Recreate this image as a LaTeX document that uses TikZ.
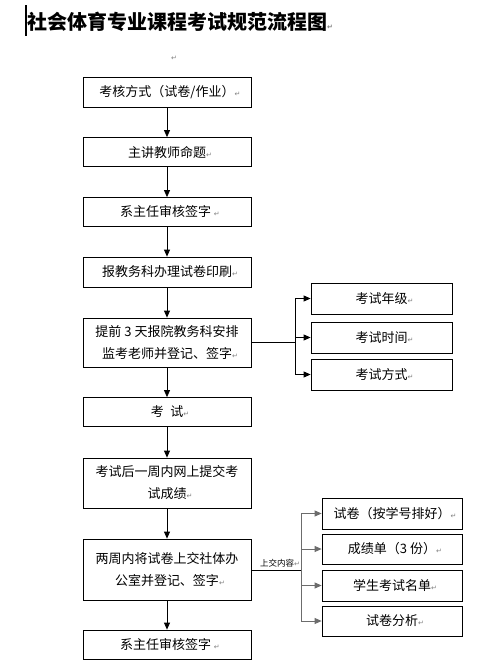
\documentclass[tikz,border=0pt]{standalone}
\usepackage{fontspec}
\newfontfamily\cjk{Noto Sans CJK SC}
\newfontfamily\dvf{DejaVu Sans}
\usetikzlibrary{arrows.meta}
\newcommand\retmark{\rlap{\dvf\fontsize{7}{7}\selectfont\textcolor{gray}{↵}}}
\tikzset{
  mbox/.style={draw, line width=0.8pt, minimum width=168pt, inner sep=0pt, align=center,
    font=\cjk\fontsize{13}{22}\selectfont},
  rbox/.style={draw, line width=0.8pt, minimum width=141pt, minimum height=31pt, inner sep=0pt,
    font=\cjk\fontsize{13}{22}\selectfont},
  arr/.style={-{Triangle[length=7pt,width=6pt]}, line width=0.8pt},
  garr/.style={-{Triangle[length=7pt,width=6pt]}, line width=0.8pt, draw=gray!85!black},
  gline/.style={line width=0.8pt, draw=gray!85!black}
}
\begin{document}
\begin{tikzpicture}[x=1pt,y=-1pt]
\useasboundingbox (0,0) rectangle (481,667);
\fill[white] (0,0) rectangle (481,667);
% cursor bar and title
\draw[line width=1.6pt] (26,5) -- (26,36);
\node[anchor=west, inner sep=0pt, font=\cjk\bfseries\fontsize{20}{20}\selectfont] (title) at (27,22) {社会体育专业课程考试规范流程图\retmark};
\node[inner sep=0pt] (pm) at (171,58) {\retmark};
% main column
\node[mbox, minimum height=30pt] (b1) at (167,92) {考核方式（试卷/作业）\retmark};
\node[mbox, minimum height=29pt] (b2) at (167,152) {主讲教师命题\retmark};
\node[mbox, minimum height=29pt] (b3) at (167,212) {系主任审核签字 \retmark};
\node[mbox, minimum height=30pt] (b4) at (167,272) {报教务科办理试卷印刷\retmark};
\node[mbox, minimum height=49pt] (b5) at (167,342.5) {提前 3 天报院教务科安排\\监考老师并登记、签字\retmark};
\node[mbox, minimum height=29pt] (b6) at (167,412) {考\hspace{0.5em}试\retmark};
\node[mbox, minimum height=50pt] (b7) at (167,483) {考试后一周内网上提交考\\试成绩\retmark};
\node[mbox, minimum height=61pt] (b8) at (167,569.5) {两周内将试卷上交社体办\\公室并登记、签字\retmark};
\node[mbox, minimum height=29pt] (b9) at (167,644.5) {系主任审核签字 \retmark};
\foreach \a/\b in {b1/b2,b2/b3,b3/b4,b4/b5,b5/b6,b6/b7,b7/b8,b8/b9}
  \draw[arr] (\a.south) -- (\b.north);
% first branch
\node[rbox] (r1) at (381.5,298.5) {考试年级\retmark};
\node[rbox] (r2) at (381.5,337.5) {考试时间\retmark};
\node[rbox] (r3) at (381.5,374.5) {考试方式\retmark};
\coordinate (j1) at (295,342.5);
\draw[line width=0.8pt] (b5.east) -- (j1);
\draw[line width=0.8pt] (295,298.5) -- (295,374.5);
\foreach \r in {r1,r2,r3}
  \draw[arr] (295,0 |- \r.west) -- (\r.west);
% second branch
\node[rbox, minimum width=140pt] (s1) at (392,513.5) {试卷（按学号排好）\retmark};
\node[rbox, minimum width=140pt, minimum height=30pt] (s2) at (392,549) {成绩单（3 份）\retmark};
\node[rbox, minimum width=140pt] (s3) at (392,585.5) {学生考试名单\retmark};
\node[rbox, minimum width=140pt, minimum height=30pt] (s4) at (392,621) {试卷分析\retmark};
\coordinate (j2) at (301,570);
\draw[line width=0.8pt] (b8.east |- j2) -- (j2);
\draw[gline] (301,513.5) -- (301,621);
\foreach \s in {s1,s2,s3,s4}
  \draw[garr] (301,0 |- \s.west) -- (\s.west);
\node[inner sep=0pt, font=\cjk\fontsize{8.5}{8.5}\selectfont] (lab) at (277,563) {上交内容\retmark};
\end{tikzpicture}
\end{document}
